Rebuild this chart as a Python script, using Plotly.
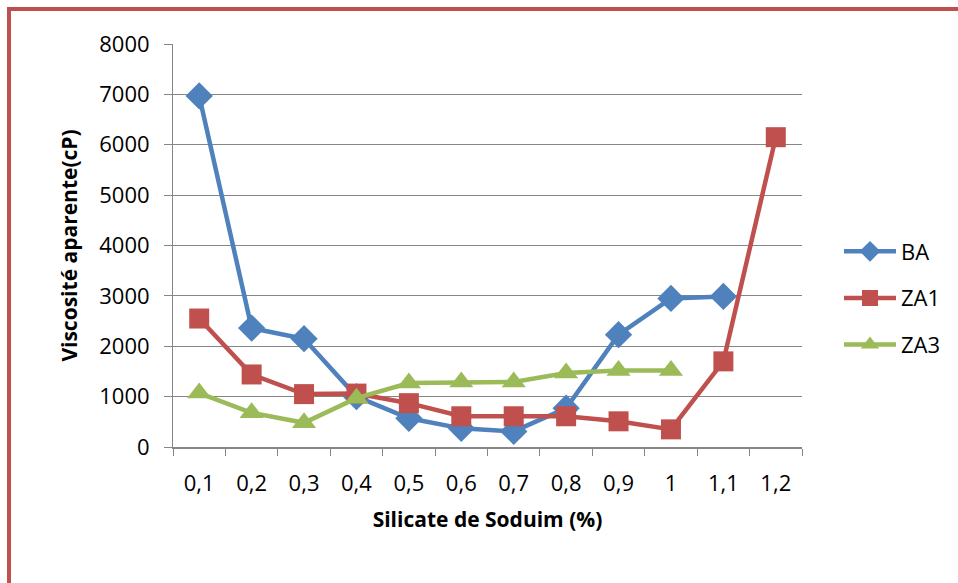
import plotly.graph_objects as go

categories = ["0,1", "0,2", "0,3", "0,4", "0,5", "0,6", "0,7", "0,8", "0,9", "1", "1,1", "1,2"]
ba = [6970, 2360, 2150, 1000, 570, 370, 310, 770, 2230, 2950, 2990, None]
za1 = [2550, 1440, 1050, 1060, 870, 610, 610, 610, 510, 350, 1700, 6150]
za3 = [1070, 680, 480, 970, 1270, 1290, 1290, 1470, 1520, 1520, None, None]

W, H = 958, 583
L, R, T, B = 173, 802, 44, 447

fig = go.Figure()
series = [
    ("BA", ba, "#4F81BD", "diamond", 21),
    ("ZA1", za1, "#C0504D", "square", 20),
    ("ZA3", za3, "#9BBB59", "triangle-up", 21),
]
for name, vals, col, sym, sz in series:
    fig.add_trace(go.Scatter(
        x=categories, y=vals, name=name, mode="lines+markers",
        line=dict(color=col, width=4.5),
        marker=dict(symbol=sym, size=sz, color=col),
        legendgroup=name, connectgaps=False,
    ))

def px_x(p):
    return (p - L) / (R - L)

def px_y(p):
    return (B - p) / (B - T)

FONT = "Open Sans, DejaVu Sans, sans-serif"

fig.update_layout(
    width=W, height=H,
    margin=dict(l=L, r=W - R, t=T, b=H - B, pad=0),
    paper_bgcolor="white", plot_bgcolor="white",
    font=dict(family=FONT, size=22, color="#000000"),
    showlegend=True,
    legend=dict(x=px_x(839), y=px_y(298), xanchor="left", yanchor="middle",
                traceorder="grouped", tracegroupgap=15,
                font=dict(size=22), itemwidth=52, bgcolor="rgba(0,0,0,0)"),
    xaxis=dict(
        type="category", range=[-0.5, 11.5],
        showline=True, linecolor="#868686", linewidth=2,
        ticks="outside", tickson="boundaries", ticklen=7, tickcolor="#868686", tickwidth=1,
        showgrid=False, zeroline=False,
        title=dict(text="<b>Silicate de Soduim (%)</b>", font=dict(size=21), standoff=16),
        tickfont=dict(size=22),
        ticklabelstandoff=16,
    ),
    yaxis=dict(
        range=[0, 8000], dtick=1000,
        showline=True, linecolor="#868686", linewidth=1,
        ticks="outside", ticklen=8, tickcolor="#868686",
        showgrid=True, gridcolor="#868686", gridwidth=1,
        zeroline=False,
        title=dict(text="<b>Viscosité aparente(cP)</b>", font=dict(size=21), standoff=15),
        tickfont=dict(size=22),
        ticklabelstandoff=10,
    ),
    shapes=[
        dict(type="line", xref="paper", yref="paper",
             x0=px_x(9), x1=px_x(9), y0=px_y(7), y1=px_y(600),
             line=dict(color="#C0504D", width=4)),
        dict(type="line", xref="paper", yref="paper",
             x0=px_x(7), x1=px_x(970), y0=px_y(9), y1=px_y(9),
             line=dict(color="#C0504D", width=4)),
    ],
)

fig.write_html("out.html")
